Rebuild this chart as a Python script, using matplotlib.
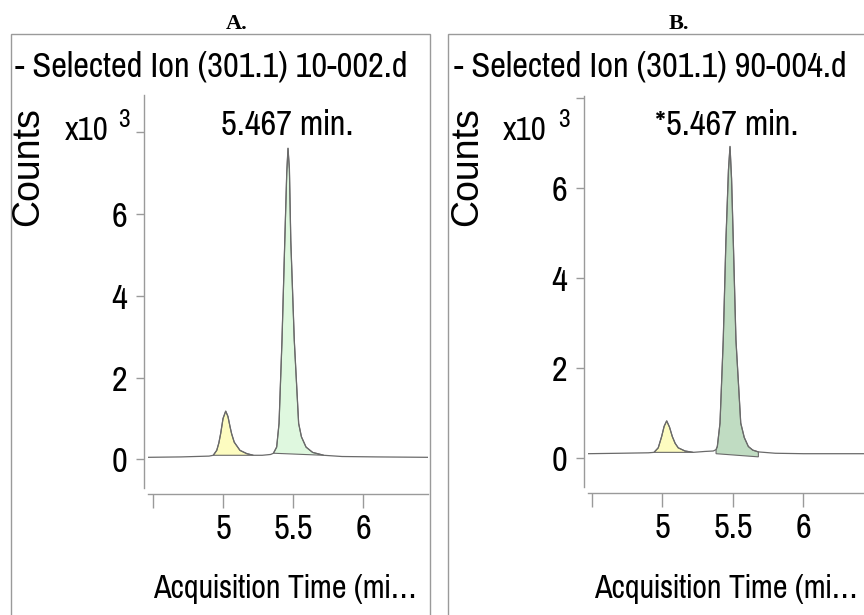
import matplotlib
matplotlib.use("Agg")
import matplotlib.pyplot as plt
from matplotlib import font_manager
from matplotlib.patches import Rectangle

# chromatogram A (10-002.d), counts in x10^3
a_time = [4.46, 4.70, 4.90, 4.93, 4.955, 4.97, 4.983, 5.00, 5.019, 5.035, 5.05, 5.061,
          5.08, 5.121, 5.17, 5.217, 5.28, 5.34, 5.36, 5.383, 5.40, 5.421, 5.441, 5.455,
          5.464, 5.474, 5.484, 5.509, 5.54, 5.56, 5.593, 5.64, 5.72, 5.85, 6.10, 6.47]
a_counts = [0.05, 0.06, 0.08, 0.10, 0.22, 0.40, 0.63, 1.00, 1.18, 1.05, 0.80, 0.63,
            0.42, 0.22, 0.14, 0.10, 0.10, 0.12, 0.15, 0.30, 0.88, 2.90, 5.34, 7.00,
            7.61, 7.10, 5.34, 2.90, 0.88, 0.55, 0.30, 0.17, 0.10, 0.07, 0.06, 0.05]

# chromatogram B (90-004.d)
b_time = [4.47, 4.70, 4.90, 4.94, 4.97, 4.994, 5.012, 5.03, 5.05, 5.07, 5.09, 5.112,
          5.16, 5.218, 5.30, 5.36, 5.38, 5.389, 5.408, 5.431, 5.45, 5.468, 5.479, 5.49,
          5.502, 5.521, 5.555, 5.58, 5.609, 5.64, 5.68, 5.80, 6.00, 6.43]
b_counts = [0.09, 0.10, 0.11, 0.12, 0.22, 0.47, 0.70, 0.82, 0.68, 0.47, 0.32, 0.22,
            0.15, 0.12, 0.14, 0.15, 0.18, 0.25, 0.77, 2.62, 4.84, 6.40, 6.92, 6.20,
            4.84, 2.62, 0.77, 0.45, 0.25, 0.17, 0.13, 0.10, 0.09, 0.09]

# integrated peak windows (start, end) in minutes
a_peaks = [(4.93, 5.217), (5.36, 5.72)]
b_peaks = [(4.94, 5.218), (5.38, 5.68)]
b_main_base = [0.09, 0.02]  # drawn baseline under B main peak

x_ticks = [4.5, 5, 5.5, 6]
x_labels = ["", "5", "5.5", "6"]
y_ticks = [0, 2, 4, 6, 8]
y_labels = ["0", "2", "4", "6", ""]

# pick an Arial Narrow look-alike that is installed
installed = {f.name for f in font_manager.fontManager.ttflist}
NARROW = next((n for n in ["Liberation Sans Narrow", "Arial Narrow", "Pragati Narrow",
                           "Archivo Narrow", "PT Sans Narrow"] if n in installed),
              "DejaVu Sans")
plt.rcParams["font.family"] = NARROW

W, H = 864, 615
fig = plt.figure(figsize=(W / 100, H / 100), dpi=100)


def px(x, y):
    return x / W, 1 - y / H


def frac_box(l, t, r, b):
    return [l / W, 1 - b / H, (r - l) / W, (b - t) / H]


GRAY = "#9a9a9a"
LINE = "#6a6a6a"
YELLOW = "#fdfcc0"


def draw_panel(rect, xlim, ylim, t, c, peaks, fill_green, base=None):
    ax = fig.add_axes(frac_box(*rect))
    ax.set_xlim(*xlim)
    ax.set_ylim(*ylim)
    for s in ("top", "right"):
        ax.spines[s].set_visible(False)
    ax.spines["left"].set_position(("outward", 3))
    ax.spines["bottom"].set_position(("outward", 4))
    for s in ("left", "bottom"):
        ax.spines[s].set_color(GRAY)
        ax.spines[s].set_linewidth(1.0)
    ax.set_xticks(x_ticks, x_labels)
    ax.set_yticks(y_ticks, y_labels)
    ax.tick_params(axis="x", direction="out", length=10, width=1, color=GRAY,
                   labelsize=27, pad=4)
    ax.tick_params(axis="y", direction="out", length=6, width=1, color=GRAY,
                   labelsize=27, pad=6)
    ax.patch.set_alpha(0)

    ax.plot(t, c, color=LINE, lw=0.9, zorder=3)
    for i, (lo, hi) in enumerate(peaks):
        xs = [x for x in t if lo <= x <= hi]
        ys = [y for x, y in zip(t, c) if lo <= x <= hi]
        if i == 1 and base is not None:
            xs = xs + [hi, lo]
            ys = ys + [base[1], base[0]]
        ax.fill(xs, ys, facecolor=YELLOW if i == 0 else fill_green,
                edgecolor=LINE, lw=0.8, zorder=2)
    return ax


# outer frames
for l, t, r, b in [(10.7, 33.7, 430, 640), (448, 34, 900, 640)]:
    fig.patches.append(Rectangle((l / W, 1 - b / H), (r - l) / W, (b - t) / H,
                                 transform=fig.transFigure, fill=False,
                                 edgecolor=GRAY, lw=1.0))

draw_panel((148, 95, 428, 488), (4.464, 6.464), (-0.70, 8.91),
           a_time, a_counts, a_peaks, "#dff8df")
draw_panel((588, 96, 864, 487), (4.472, 6.429), (-0.65, 8.04),
           b_time, b_counts, b_peaks, "#c0dcc2", base=b_main_base)

serif = dict(family="Liberation Serif", fontweight="bold", fontsize=16,
             ha="center", va="center")
fig.text(*px(237, 24), "A.", **serif)
fig.text(*px(679, 24), "B.", **serif)

fig.text(*px(15, 76), "- Selected Ion (301.1) 10-002.d", fontsize=27, va="baseline")
fig.text(*px(454, 76), "- Selected Ion (301.1) 90-004.d", fontsize=27, va="baseline")

fig.text(*px(287, 125), "5.467 min.", fontsize=27, ha="center", va="center")
fig.text(*px(727, 125), "*5.467 min.", fontsize=27, ha="center", va="center")

for cx, x10, x3 in [(28, 65, 118), (467, 503, 558)]:
    fig.text(*px(cx, 167), "Counts", family="Liberation Sans", fontsize=27,
             rotation=90, ha="center", va="center")
    fig.text(*px(x10, 140), "x10", fontsize=26, va="baseline")
    fig.text(*px(x3, 127), "3", fontsize=20, va="baseline")

fig.text(*px(153, 598), "Acquisition Time (mi\u2026", fontsize=25.3, va="baseline")
fig.text(*px(594, 598), "Acquisition Time (mi\u2026", fontsize=25.3, va="baseline")

fig.savefig("out.png", dpi=100)
